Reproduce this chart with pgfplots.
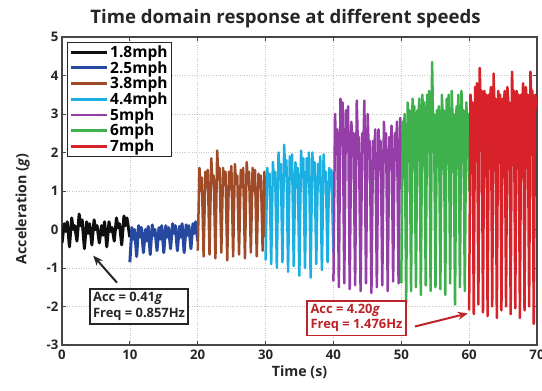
\documentclass[border=0pt]{standalone}
\usepackage{pgfplots}
\pgfplotsset{compat=1.18}
\usepackage{fontspec}
\setmainfont{Open Sans}
\usetikzlibrary{arrows.meta}
\definecolor{cBlack}{RGB}{15,15,15}
\definecolor{cBlue}{RGB}{38,72,158}
\definecolor{cBrown}{RGB}{160,75,40}
\definecolor{cCyan}{RGB}{28,176,226}
\definecolor{cPurple}{RGB}{150,62,168}
\definecolor{cGreen}{RGB}{62,176,76}
\definecolor{cRed}{RGB}{214,34,40}
\definecolor{cDarkRed}{RGB}{190,35,40}
\definecolor{axisgray}{RGB}{70,70,70}
\begin{document}
\begin{tikzpicture}
\begin{axis}[
  name=ax,
  scale only axis, width=475pt, height=308pt,
  xmin=0, xmax=70, ymin=-3, ymax=5,
  xtick={0,10,...,70}, ytick={-3,-2,...,5},
  grid=major,
  major grid style={dotted, gray!45, line width=0.7pt},
  axis line style={axisgray, line width=1.2pt},
  tick style={axisgray, line width=0.8pt},
  major tick length=4pt,
  /pgf/number format/assume math mode=true,
  ticklabel style={font=\bfseries\fontsize{13.2}{15}\selectfont, text=black!85},
  xticklabel style={yshift=-1pt},
  title={Time domain response at different speeds},
  title style={font=\bfseries\fontsize{18.6}{21}\selectfont, text=black!85, xshift=-14pt, yshift=-1pt},
  xlabel={Time (s)},
  ylabel={Acceleration (\textit{g})},
  label style={font=\bfseries\fontsize{14.2}{16}\selectfont, text=black!85},
  xlabel style={yshift=0pt},
  ylabel style={yshift=10pt, xshift=-18pt},
  legend cell align=left,
  legend style={at={(0.011,0.985)}, anchor=north west, draw=black!85, line width=1pt,
    font=\bfseries\fontsize{15.5}{16}\selectfont, row sep=-1.6pt, inner sep=1.5pt},
  legend image code/.code={\draw[#1] (0pt,0pt) -- (36pt,0pt);},
  every axis plot/.append style={line width=2.5pt, line join=round},
  clip=true,
]
\addplot[cBlack, line width=3pt] coordinates {
(0,-0.35) (0.33,0.15) (0.55,-0.05) (0.77,0.2)
(1.1,-0.45) (1.43,0.3) (1.65,0.0) (1.87,0.1)
(2.2,-0.3) (2.53,0.4) (2.75,0.1) (2.97,0.25)
(3.3,-0.5) (3.63,0.2) (3.85,-0.1) (4.07,0.15)
(4.4,-0.4) (4.73,0.25) (4.95,0.0) (5.17,0.1)
(5.5,-0.35) (5.83,0.1) (6.05,-0.15) (6.27,0.2)
(6.6,-0.45) (6.93,0.2) (7.15,-0.05) (7.37,0.05)
(7.7,-0.3) (8.03,0.3) (8.25,0.05) (8.47,0.15)
(8.8,-0.4) (9.13,0.35) (9.35,0.1) (9.57,0.3)
(10,-0.2)
};
\addlegendentry{1.8mph}
\addplot[cBlue, line width=3pt] coordinates {
(10,-0.85) (10.3,0.05) (10.5,-0.25) (10.7,0.0)
(11,-0.7) (11.3,0.1) (11.5,-0.2) (11.7,0.05)
(12,-0.6) (12.3,0.0) (12.5,-0.3) (12.7,0.08)
(13,-0.65) (13.3,0.12) (13.5,-0.15) (13.7,0.0)
(14,-0.55) (14.3,0.05) (14.5,-0.25) (14.7,0.1)
(15,-0.6) (15.3,0.1) (15.5,-0.2) (15.7,0.05)
(16,-0.5) (16.3,0.15) (16.5,-0.1) (16.7,0.1)
(17,-0.55) (17.3,0.08) (17.5,-0.2) (17.7,0.15)
(18,-0.6) (18.3,0.12) (18.5,-0.15) (18.7,0.1)
(19,-0.5) (19.3,0.15) (19.5,-0.1) (19.7,0.2)
(20,-0.3)
};
\addlegendentry{2.5mph}
\addplot[cBrown] coordinates {
(20,-0.55) (20.26,1.6) (20.44,1.0) (20.61,1.35)
(20.87,-0.7) (21.13,1.5) (21.31,1.1) (21.48,1.55)
(21.74,-0.65) (22.0,1.85) (22.18,1.2) (22.35,1.4)
(22.61,-0.75) (22.87,2.05) (23.05,1.3) (23.22,1.6)
(23.48,-0.6) (23.74,1.6) (23.92,1.15) (24.09,1.5)
(24.35,-0.8) (24.61,1.5) (24.79,1.05) (24.96,1.65)
(25.22,-0.7) (25.48,1.7) (25.66,1.2) (25.83,1.4)
(26.09,-0.65) (26.35,1.55) (26.53,1.1) (26.70,1.6)
(26.96,-0.75) (27.22,1.75) (27.40,1.2) (27.57,1.5)
(27.83,-0.6) (28.09,1.6) (28.27,1.0) (28.44,1.55)
(28.70,-0.7) (28.96,1.45) (29.14,1.1) (29.31,1.4)
(29.57,-0.55) (29.83,1.5) (30,-0.2)
};
\addlegendentry{3.8mph}
\addplot[cCyan] coordinates {
(30,-0.8) (30.25,1.6) (30.415,1.1) (30.58,1.45)
(30.83,-0.9) (31.08,1.75) (31.245,1.2) (31.41,1.5)
(31.66,-1.0) (31.91,2.0) (32.075,1.3) (32.24,1.7)
(32.49,-0.85) (32.74,2.2) (32.905,1.4) (33.07,1.8)
(33.32,-1.1) (33.57,1.9) (33.735,1.3) (33.90,1.95)
(34.15,-0.95) (34.40,1.75) (34.565,1.2) (34.73,1.6)
(34.98,-1.2) (35.23,2.05) (35.395,1.35) (35.56,1.85)
(35.81,-1.0) (36.06,1.85) (36.225,1.25) (36.39,2.0)
(36.64,-1.25) (36.89,2.0) (37.055,1.3) (37.22,1.75)
(37.47,-0.9) (37.72,1.7) (37.885,1.2) (38.05,1.9)
(38.30,-1.05) (38.55,1.95) (38.715,1.25) (38.88,1.5)
(39.13,-0.85) (39.38,1.6) (39.545,1.1) (39.71,1.55)
(40,-0.6)
};
\addlegendentry{4.4mph}
\addplot[cPurple] coordinates {
(40,-1.35) (40.24,3.0) (40.4,2.0) (40.56,2.6)
(40.8,-1.5) (41.04,3.4) (41.2,2.2) (41.36,3.3)
(41.6,-1.4) (41.84,3.1) (42.0,2.1) (42.16,3.2)
(42.4,-1.55) (42.64,2.8) (42.8,2.3) (42.96,2.5)
(43.2,-1.45) (43.44,3.35) (43.6,2.2) (43.76,2.4)
(44.0,-1.6) (44.24,2.5) (44.4,2.0) (44.56,3.35)
(44.8,-1.4) (45.04,3.0) (45.2,2.1) (45.36,2.3)
(45.6,-1.65) (45.84,2.3) (46.0,1.9) (46.16,2.6)
(46.4,-1.5) (46.64,2.6) (46.8,2.0) (46.96,2.3)
(47.2,-1.45) (47.44,2.8) (47.6,1.9) (47.76,2.5)
(48.0,-1.6) (48.24,2.4) (48.4,2.0) (48.56,2.7)
(48.8,-1.35) (49.04,2.5) (49.2,1.8) (49.36,2.8)
(49.6,-1.4) (49.84,2.9) (50,1.5)
};
\addlegendentry{5mph}
\addplot[cGreen] coordinates {
(50,-1.4) (50.22,2.8) (50.36,2.5) (50.5,3.0)
(50.72,-1.9) (50.94,3.3) (51.08,2.7) (51.22,3.1)
(51.44,-1.6) (51.66,3.4) (51.80,2.8) (51.94,3.2)
(52.16,-1.5) (52.38,3.1) (52.52,2.9) (52.66,3.4)
(52.88,-1.7) (53.10,3.5) (53.24,2.85) (53.38,3.3)
(53.6,-1.45) (53.82,3.5) (53.96,2.9) (54.10,3.6)
(54.32,-1.6) (54.54,4.35) (54.68,2.9) (54.82,3.0)
(55.04,-1.5) (55.26,3.1) (55.40,2.8) (55.54,3.2)
(55.76,-1.55) (55.98,3.5) (56.12,2.9) (56.26,3.1)
(56.48,-1.7) (56.70,3.4) (56.84,2.8) (56.98,3.5)
(57.2,-1.4) (57.42,3.6) (57.56,2.9) (57.70,3.0)
(57.92,-1.95) (58.14,3.2) (58.28,2.8) (58.42,3.5)
(58.64,-1.5) (58.86,3.6) (59.00,2.9) (59.14,3.1)
(59.36,-1.6) (59.58,3.3) (59.72,2.7) (59.86,3.0)
(60,1.0)
};
\addlegendentry{6mph}
\addplot[cRed] coordinates {
(60,-2.1) (60.2,3.5) (60.34,3.1) (60.48,3.3)
(60.68,-2.2) (60.88,3.7) (61.02,3.3) (61.16,3.8)
(61.36,-1.95) (61.56,4.2) (61.70,3.2) (61.84,3.6)
(62.04,-2.15) (62.24,3.6) (62.38,3.25) (62.52,3.5)
(62.72,-2.25) (62.92,3.5) (63.06,3.3) (63.20,3.7)
(63.4,-2.0) (63.6,4.05) (63.74,3.2) (63.88,3.4)
(64.08,-2.3) (64.28,3.6) (64.42,3.3) (64.56,3.5)
(64.76,-2.1) (64.96,3.4) (65.10,3.2) (65.24,3.6)
(65.44,-2.0) (65.64,3.7) (65.78,3.3) (65.92,3.3)
(66.12,-2.2) (66.32,4.1) (66.46,3.2) (66.60,3.6)
(66.8,-2.05) (67.0,3.6) (67.14,3.3) (67.28,3.5)
(67.48,-2.3) (67.68,3.5) (67.82,3.2) (67.96,3.8)
(68.16,-2.1) (68.36,3.7) (68.50,3.25) (68.64,3.5)
(68.84,-2.0) (69.04,4.1) (69.18,3.3) (69.32,3.6)
(69.52,-2.45) (69.72,3.5) (69.86,3.2) (70,3.4)
};
\addlegendentry{7mph}
\end{axis}
\begin{axis}[
  scale only axis, width=475pt, height=308pt,
  xmin=0, xmax=70, ymin=-3, ymax=5, hide axis, clip=false,
  at={(ax.south west)}, anchor=south west]
\draw[-{Stealth[length=10pt,width=8pt]}, line width=2pt, black!85] (axis cs:8.1,-1.38) -- (axis cs:4.6,-0.68);
\node[draw=black!85, line width=1.7pt, fill=white, align=left, inner sep=3.4pt,
  font=\bfseries\fontsize{12.9}{15.5}\selectfont, text=black!85] at (axis cs:11.35,-2.0)
  {Acc = 0.41\textit{g}\\Freq = 0.857Hz};
\draw[-{Stealth[length=10pt,width=8pt]}, line width=2pt, cDarkRed] (axis cs:52.0,-2.52) -- (axis cs:59.8,-2.18);
\node[draw=cDarkRed, line width=1.7pt, fill=white, align=left, inner sep=3.4pt,
  font=\bfseries\fontsize{12.9}{15.5}\selectfont, text=cDarkRed] at (axis cs:43.4,-2.3)
  {Acc = 4.20\textit{g}\\Freq = 1.476Hz};
\end{axis}
\pgfresetboundingbox
\path[use as bounding box] ([xshift=-62pt,yshift=-46pt]ax.south west) rectangle ([xshift=5pt,yshift=37pt]ax.north east);
\end{tikzpicture}
\end{document}
